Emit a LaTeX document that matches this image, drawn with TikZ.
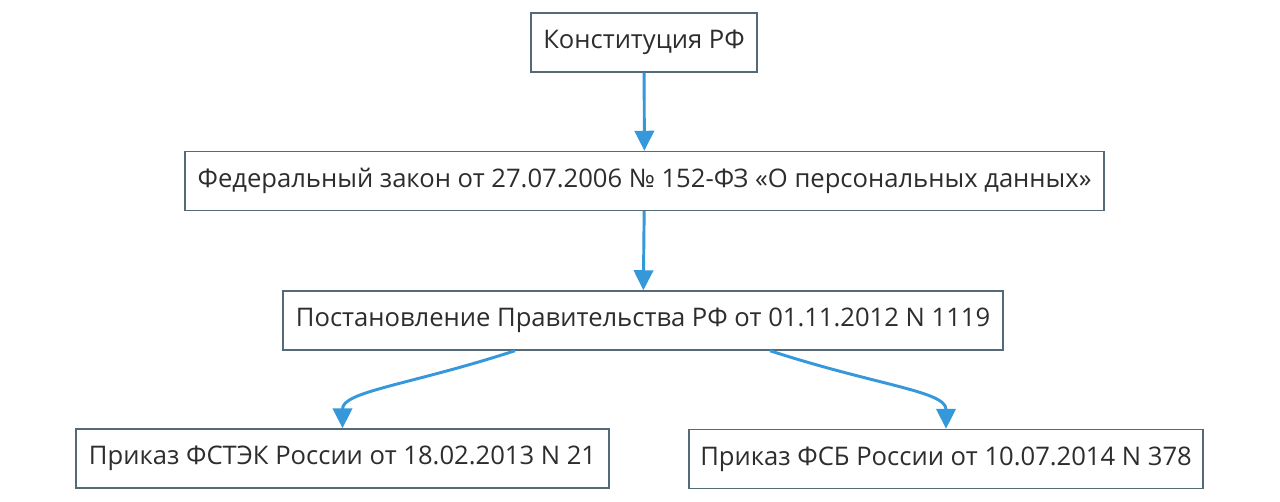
\documentclass[tikz,border=0pt]{standalone}
\usepackage{fontspec}
\setmainfont{Open Sans}
\usetikzlibrary{arrows.meta}
\definecolor{linkblue}{RGB}{52,152,219}
\definecolor{boxline}{RGB}{84,106,120}
\definecolor{boxtext}{RGB}{45,45,45}

\begin{document}
\begin{tikzpicture}[x=0.75pt,y=-0.75pt,
	doc/.style={draw=boxline,line width=1.1pt,fill=white,rectangle,
		minimum height=44.25pt,inner sep=0pt,text=boxtext,
		font=\fontsize{19.2pt}{23pt}\selectfont},
	link/.style={draw=linkblue,line width=2.2pt,
		-{Triangle[length=15pt,width=14.5pt]}}]
\useasboundingbox[fill=white] (0,0) rectangle (1280,502);
\node[doc,minimum width=169.5pt] (konst) at (644,42.5) {Конституция РФ};
\node[doc,minimum width=689.25pt] (fz) at (644.5,181) {Федеральный закон от 27.07.2006 № 152-ФЗ «О персональных данных»};
\node[doc,minimum width=540pt] (post) at (643,320.5) {Постановление Правительства РФ от 01.11.2012 N 1119};
\node[doc,minimum width=399.75pt] (fstek) at (342.5,458.5) {Приказ ФСТЭК России от 18.02.2013 N 21};
\node[doc,minimum width=385.5pt] (fsb) at (946,459) {Приказ ФСБ России от 10.07.2014 N 378};
%\draw (konst) -- (fz);
\draw[link] (konst) -- (fz);
\draw[link] (fz) -- (post);
\draw[link] ([xshift=-96pt]post.south) to[out=198,in=90,out looseness=1.5,in looseness=0.5] (fstek.north);
\draw[link] ([xshift=95.25pt]post.south) to[out=-18,in=90,out looseness=1.5,in looseness=0.5] (fsb.north);
\end{tikzpicture}
\end{document}
